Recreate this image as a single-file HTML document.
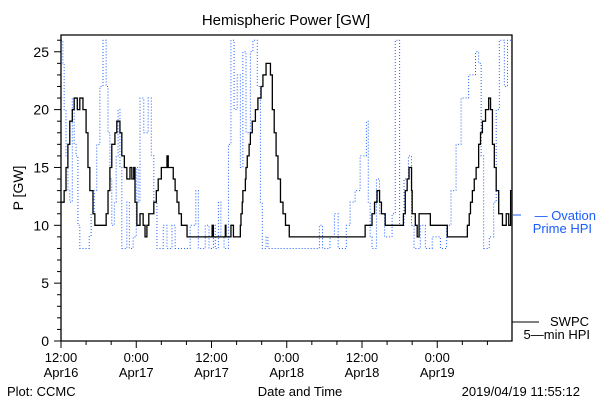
<!DOCTYPE html>
<html><head><meta charset="utf-8"><style>
body{margin:0;background:#fff}
svg text{font-family:"Liberation Sans",sans-serif}
</style></head><body>
<svg id="chart" width="600" height="400" xmlns="http://www.w3.org/2000/svg"></svg>
<script>
const swpcHours=[0,0.5,0.8,1.1,1.4,1.8,2.1,2.6,3.0,3.5,4.0,4.3,4.6,5.1,5.4,7.2,7.5,7.8,8.1,8.6,8.9,9.4,9.7,10.1,10.5,11.0,11.3,11.6,11.8,12.1,12.6,13.1,13.4,13.7,14.0,14.8,15.2,15.5,16.0,16.9,17.1,17.9,18.2,18.5,18.8,19.2,20.1,24.1,24.3,26.2,26.3,27.1,27.5,28.6,28.7,28.9,29.0,29.4,29.5,29.7,30.0,30.2,30.5,31.0,31.4,31.9,32.2,32.7,33.4,33.7,34.0,34.3,34.6,35.0,35.4,35.8,36.4,48.5,49.6,50.0,50.4,50.8,51.1,51.7,54.6,54.9,55.2,55.5,55.9,56.0,56.5,56.8,57.1,58.9,61.6,64.8,65.1,65.3,65.6,65.9,66.2,66.6,66.9,67.2,67.7,68.2,68.5,68.8,69.1,69.4,69.8,70.4,71.0,71.4,71.7];
const swpcValues=[12,13,15,17,19,20,21,20,21,20,18,15,13,11,10,11,13,15,17,18,19,18,16,15,14,15,14,15,12,10,11,10,9,10,11,12,13,14,15,16,15,14,13,12,11,10,9,10,9,10,9,10,9,10,11,12,13,14,15,16,17,18,19,20,21,22,23,24,23,20,18,16,14,12,11,10,9,10,11,12,13,12,11,10,11,13,14,15,13,11,10,9,11,10,9,10,11,12,13,14,15,17,18,19,20,21,20,17,15,13,11,10,11,10,13];
const ovHours=[0,0.3,0.5,0.8,1.1,1.4,1.8,2.1,2.4,2.7,3.0,4.5,4.8,5.3,5.7,6.2,6.7,7.2,7.5,7.8,8.1,8.5,8.8,9.1,9.4,9.7,10.5,10.9,11.5,12.0,12.3,12.6,13.2,13.9,14.4,14.8,15.3,16.3,16.9,17.7,18.2,20.6,21.5,21.9,23.0,23.6,24.3,24.6,25.1,25.5,26.0,26.7,27.1,27.6,28.1,28.6,29.0,29.5,30.2,30.6,31.3,31.8,32.1,32.7,33.0,41.2,41.7,42.9,43.6,44.2,45.5,46.1,46.9,47.7,48.7,49.0,49.3,49.6,50.3,50.8,51.6,52.8,53.3,54.0,54.7,55.4,55.9,56.3,57.3,58.1,59.2,60.5,61.5,62.2,63.0,63.8,65.0,66.1,66.6,67.0,67.4,68.3,69.0,69.4,69.9,70.7,71.2,71.9];
const ovValues=[26,24,20,16,13,12,21,17,16,10,8,9,11,13,17,22,26,22,18,14,10,12,16,20,15,8,12,8,9,15,12,21,18,21,16,12,8,10,8,10,8,10,13,8,10,8,10,8,12,9,8,17,26,20,23,15,25,18,25,26,22,12,8,9,8,10,8,9,11,8,10,12,13,16,19,12,9,8,14,11,9,11,26,10,14,16,10,8,10,8,9,8,10,13,17,21,23,25,24,16,8,9,12,20,26,22,26,24];
const yTicks=[0,5,10,15,20,25];
const xTickHours=[0,12,24,36,48,60];
const xTickLabels=[["12:00","Apr16"],["0:00","Apr17"],["12:00","Apr17"],["0:00","Apr18"],["12:00","Apr18"],["0:00","Apr19"]];

const L=61,R=512,T=35,B=341,H0=0,H1=71.92,Y0=0,Y1=26.45;
const xS=h=>L+(h-H0)/(H1-H0)*(R-L);
const yS=v=>B-(v-Y0)/(Y1-Y0)*(B-T);
const svg=document.getElementById('chart');
const NS='http://www.w3.org/2000/svg';
function mk(tag,attrs,txt){const e=document.createElementNS(NS,tag);for(const k in attrs)e.setAttribute(k,attrs[k]);if(txt!==undefined)e.textContent=txt;svg.appendChild(e);return e;}
function stepPath(hs,vs){let d='';for(let i=0;i<hs.length;i++){const x=xS(hs[i]),y=yS(vs[i]);if(i===0)d+='M'+x+' '+y;else d+=' H'+x+' V'+y;}d+=' H'+R;return d;}

let e;
e=mk('path',{d:stepPath(ovHours,ovValues),fill:'none',stroke:'#1a5cff','stroke-width':1,'stroke-dasharray':'1 2'});


e=mk('path',{d:stepPath(swpcHours,swpcValues),fill:'none',stroke:'#000','stroke-width':1.3});


e=mk('path',{d:`M${L} ${B} V${T} H${R} V${B} H${L}`,fill:'none',stroke:'#000','stroke-width':1.3});


for(let v=0;v<=26;v++){const y=yS(v);const major=v%5===0;
 e=mk('line',{x1:L-(major?7:4),x2:L,y1:y,y2:y,stroke:'#000'});
 
 }
yTicks.forEach(v=>{e=mk('text',{x:49,y:yS(v)+5,'text-anchor':'end','font-size':14},String(v));
 
 });
for(let h=0;h<=H1;h+=4){const x=xS(h);const major=h%12===0;
 e=mk('line',{x1:x,x2:x,y1:B,y2:B+(major?7:4),stroke:'#000'});
 
 }
xTickHours.forEach((h,i)=>{const x=xS(h);
 e=mk('text',{x:x,y:362,'text-anchor':'middle','font-size':13},xTickLabels[i][0]);
 
 
 e=mk('text',{x:x,y:377,'text-anchor':'middle','font-size':13},xTickLabels[i][1]);
 
 });
e=mk('text',{x:286,y:25,'text-anchor':'middle','font-size':15},'Hemispheric Power [GW]');


e=mk('text',{x:0,y:0,'text-anchor':'middle','font-size':14,transform:'translate(23,188) rotate(-90)'},'P [GW]');


e=mk('text',{x:300,y:396,'text-anchor':'middle','font-size':13},'Date and Time');


e=mk('text',{x:7,y:396,'font-size':13},'Plot: CCMC');


e=mk('text',{x:580,y:396,'text-anchor':'end','font-size':13},'2019/04/19 11:55:12');


e=mk('line',{x1:513,x2:521,y1:215,y2:215,stroke:'#1a5cff'});


e=mk('text',{x:596,y:220,'text-anchor':'end','font-size':13,fill:'#1a5cff'},'— Ovation');


e=mk('text',{x:592,y:233,'text-anchor':'end','font-size':13,fill:'#1a5cff'},'Prime HPI');


e=mk('line',{x1:512,x2:539,y1:322,y2:322,stroke:'#000'});


e=mk('text',{x:589,y:326,'text-anchor':'end','font-size':13},'SWPC');


e=mk('text',{x:590,y:339,'text-anchor':'end','font-size':13},'5—min HPI');


</script>
</body></html>
